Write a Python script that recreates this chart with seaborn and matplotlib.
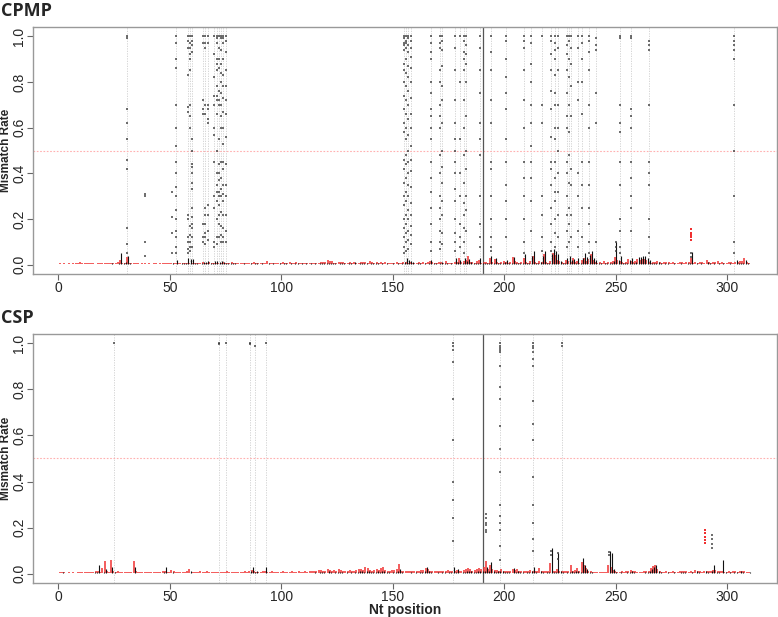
import numpy as np
import pandas as pd
import matplotlib
matplotlib.use('Agg')
import matplotlib.pyplot as plt
import seaborn as sns

sns.set_style('white')
plt.rcParams['font.family'] = ['Liberation Sans', 'DejaVu Sans']

positions = np.arange(1, 311)
split_pos = 190.5

# baseline bar heights per position (x 1/1000 mismatch rate)
cpmp_red = [6, 5, 7, 5, 6, 5, 6, 7, 8, 14,
            9, 8, 7, 6, 7, 6, 5, 6, 7, 6,
            8, 7, 6, 9, 10, 8, 12, 20, 9, 7,
            35, 8, 6, 7, 6, 8, 5, 6, 7, 5,
            6, 5, 7, 6, 5, 6, 7, 8, 9, 7,
            10, 8, 7, 6, 8, 9, 7, 8, 6, 7,
            8, 9, 7, 10, 12, 8, 9, 11, 8, 7,
            10, 9, 8, 12, 9, 7, 10, 14, 8, 9,
            7, 8, 6, 9, 7, 10, 8, 12, 7, 8,
            9, 7, 8, 16, 9, 8, 7, 10, 8, 6,
            14, 9, 8, 11, 10, 9, 12, 8, 7, 9,
            8, 10, 9, 7, 8, 9, 10, 12, 11, 14,
            20, 18, 16, 10, 9, 12, 14, 11, 9, 10,
            12, 9, 11, 8, 10, 12, 14, 11, 9, 16,
            12, 10, 14, 9, 11, 10, 13, 9, 8, 10,
            9, 11, 8, 10, 12, 14, 10, 12, 9, 8,
            10, 12, 9, 11, 8, 14, 18, 12, 10, 9,
            14, 12, 10, 16, 9, 8, 10, 11, 14, 30,
            12, 16, 20, 38, 14, 12, 10, 16, 22, 10,
            12, 14, 10, 28, 12, 26, 14, 10, 12, 16,
            14, 10, 12, 34, 16, 12, 10, 14, 30, 12,
            10, 16, 40, 12, 10, 18, 12, 48, 14, 10,
            16, 50, 42, 20, 18, 14, 10, 22, 16, 12,
            28, 12, 16, 10, 20, 30, 18, 24, 46, 20,
            14, 10, 12, 10, 16, 10, 12, 14, 18, 34,
            22, 16, 12, 10, 14, 24, 18, 12, 16, 26,
            22, 24, 26, 20, 12, 10, 12, 14, 16, 12,
            10, 14, 12, 11, 10, 12, 9, 10, 12, 11,
            10, 12, 14, 30, 10, 12, 9, 14, 11, 10,
            20, 12, 10, 14, 11, 16, 10, 12, 9, 10,
            12, 11, 10, 14, 12, 16, 18, 30, 12, 10]
cpmp_black = [3, 4, 3, 3, 4, 3, 3, 4, 4, 5,
              4, 3, 4, 3, 4, 3, 4, 5, 4, 3,
              4, 5, 4, 6, 4, 5, 8, 50, 6, 14,
              40, 6, 4, 5, 4, 3, 4, 5, 4, 3,
              4, 3, 4, 5, 4, 3, 4, 5, 4, 3,
              6, 5, 20, 4, 6, 8, 6, 30, 26, 24,
              6, 8, 5, 10, 12, 14, 16, 6, 8, 18,
              16, 14, 18, 14, 10, 6, 8, 10, 6, 5,
              5, 4, 6, 5, 4, 6, 5, 8, 6, 5,
              6, 5, 4, 8, 5, 6, 4, 5, 6, 4,
              8, 6, 5, 6, 5, 6, 7, 5, 6, 5,
              6, 5, 6, 5, 6, 5, 6, 7, 6, 8,
              10, 9, 8, 6, 5, 7, 8, 6, 5, 6,
              6, 5, 14, 5, 6, 7, 8, 6, 5, 10,
              8, 6, 10, 5, 6, 5, 7, 5, 4, 6,
              5, 6, 5, 6, 14, 30, 20, 16, 12, 5,
              6, 8, 5, 6, 5, 10, 22, 8, 6, 5,
              10, 14, 6, 10, 5, 6, 5, 28, 12, 20,
              8, 30, 18, 24, 12, 8, 6, 10, 30, 6,
              8, 10, 6, 40, 10, 30, 8, 6, 10, 12,
              20, 6, 8, 36, 10, 8, 6, 10, 48, 8,
              6, 40, 60, 8, 6, 14, 40, 62, 10, 6,
              46, 70, 60, 48, 16, 10, 6, 30, 40, 20,
              24, 8, 30, 6, 28, 50, 36, 44, 60, 30,
              20, 6, 8, 5, 10, 6, 8, 10, 16, 100,
              20, 40, 8, 6, 10, 22, 30, 8, 12, 34,
              36, 38, 40, 30, 20, 6, 8, 10, 12, 6,
              5, 8, 6, 5, 4, 6, 5, 4, 6, 5,
              4, 6, 8, 55, 5, 6, 4, 8, 5, 4,
              14, 6, 4, 8, 5, 10, 4, 6, 5, 4,
              6, 5, 4, 20, 6, 8, 10, 20, 6, 4]
csp_red = [8, 7, 6, 5, 6, 5, 6, 5, 6, 7,
           6, 7, 8, 6, 7, 9, 12, 10, 8, 24,
           55, 10, 8, 60, 12, 8, 14, 9, 8, 7,
           8, 7, 9, 55, 10, 8, 7, 9, 8, 7,
           8, 7, 6, 9, 8, 7, 10, 14, 9, 8,
           18, 10, 8, 9, 7, 8, 9, 10, 20, 8,
           9, 8, 7, 10, 8, 9, 10, 8, 9, 7,
           8, 9, 7, 8, 9, 10, 8, 9, 7, 8,
           9, 7, 8, 10, 9, 14, 18, 12, 9, 8,
           9, 10, 14, 8, 9, 10, 8, 9, 7, 8,
           10, 8, 9, 7, 12, 8, 9, 10, 8, 9,
           10, 9, 11, 10, 12, 14, 16, 18, 14, 12,
           22, 16, 14, 18, 12, 20, 16, 14, 12, 14,
           16, 12, 14, 18, 22, 20, 16, 28, 24, 18,
           14, 16, 20, 18, 24, 30, 16, 14, 12, 16,
           18, 20, 42, 14, 12, 10, 12, 14, 10, 12,
           14, 12, 16, 18, 26, 20, 14, 12, 10, 12,
           11, 12, 14, 12, 16, 14, 12, 10, 18, 12,
           14, 18, 22, 26, 20, 14, 18, 22, 24, 20,
           30, 56, 20, 40, 22, 18, 16, 14, 20, 12,
           14, 12, 10, 22, 16, 20, 14, 12, 10, 14,
           12, 16, 14, 12, 10, 24, 14, 10, 12, 14,
           48, 12, 10, 22, 14, 12, 10, 12, 14, 36,
           12, 16, 24, 14, 50, 36, 24, 12, 10, 8,
           8, 7, 8, 7, 8, 9, 40, 30, 16, 10,
           9, 8, 10, 8, 12, 14, 16, 12, 10, 8,
           9, 8, 10, 12, 14, 26, 34, 40, 20, 10,
           9, 8, 10, 9, 8, 10, 9, 8, 10, 14,
           12, 10, 9, 14, 8, 18, 12, 10, 9, 14,
           12, 10, 14, 18, 16, 14, 12, 10, 9, 8,
           10, 9, 12, 10, 9, 14, 12, 10, 9, 8]
csp_black = [4, 8, 3, 4, 3, 4, 3, 4, 3, 4,
             3, 4, 5, 4, 3, 6, 8, 40, 5, 6,
             20, 5, 4, 30, 6, 4, 5, 4, 3, 4,
             4, 3, 5, 30, 4, 3, 4, 5, 4, 3,
             4, 3, 4, 5, 4, 3, 6, 30, 5, 4,
             8, 4, 5, 4, 3, 4, 5, 4, 10, 4,
             4, 5, 4, 3, 5, 4, 3, 4, 5, 4,
             5, 4, 5, 4, 3, 5, 4, 3, 4, 5,
             4, 5, 4, 3, 4, 10, 30, 8, 14, 4,
             5, 4, 30, 5, 4, 5, 4, 3, 4, 5,
             4, 5, 4, 3, 5, 4, 3, 4, 5, 4,
             5, 4, 5, 4, 6, 5, 6, 8, 6, 5,
             10, 6, 5, 8, 6, 8, 6, 5, 6, 5,
             6, 5, 6, 8, 14, 10, 8, 12, 10, 8,
             6, 8, 10, 8, 12, 14, 8, 6, 5, 8,
             8, 10, 20, 6, 5, 4, 5, 6, 5, 6,
             5, 6, 8, 10, 30, 10, 6, 5, 4, 6,
             5, 6, 8, 5, 6, 8, 30, 6, 20, 5,
             6, 8, 10, 14, 10, 6, 8, 12, 14, 10,
             14, 30, 10, 50, 12, 8, 10, 14, 10, 6,
             8, 6, 5, 24, 8, 12, 8, 6, 5, 8,
             6, 10, 30, 6, 5, 14, 8, 5, 6, 8,
             110, 8, 6, 90, 10, 8, 5, 6, 8, 10,
             6, 10, 14, 8, 70, 40, 20, 8, 6, 5,
             4, 5, 4, 5, 4, 5, 100, 90, 20, 6,
             5, 6, 5, 4, 6, 8, 10, 6, 5, 4,
             5, 4, 6, 8, 10, 20, 30, 40, 14, 6,
             5, 4, 6, 5, 4, 6, 5, 4, 6, 8,
             6, 5, 4, 8, 5, 10, 6, 5, 4, 14,
             6, 5, 14, 40, 8, 6, 5, 60, 6, 4,
             6, 5, 8, 6, 5, 10, 6, 5, 4, 6]

# positions with high mismatch (marked with dotted lines) and their sample values
cpmp_hit_pos = [31, 53, 58, 59, 60, 65, 66, 67, 70, 71, 72, 73, 74, 75,
                155, 156, 157, 158, 167, 171, 172, 178, 180, 182, 183, 189,
                194, 201, 209, 212, 217, 221, 223, 224, 228, 229, 230, 233,
                235, 238, 241, 252, 257, 265, 303]
cpmp_hit_vals = [
    [1.0, 0.99, 0.68, 0.62, 0.55, 0.46, 0.42, 0.16, 0.09, 0.05],
    [1.0, 0.97, 0.9, 0.86, 0.7, 0.6, 0.52, 0.45, 0.4, 0.34, 0.3, 0.24, 0.2, 0.15, 0.12, 0.08, 0.05],
    [1.0, 0.98, 0.95, 0.83, 0.69, 0.67, 0.22, 0.2, 0.12, 0.1, 0.07, 0.05],
    [1.0, 0.97, 0.95, 0.92, 0.9, 0.85, 0.7, 0.65, 0.6, 0.17, 0.13, 0.1, 0.08, 0.06],
    [1.0, 0.98, 0.96, 0.93, 0.55, 0.5, 0.44, 0.43, 0.4, 0.36, 0.33, 0.25, 0.21, 0.18, 0.16, 0.12, 0.08],
    [1.0, 0.97, 0.72, 0.68, 0.66, 0.18, 0.12, 0.1],
    [1.0, 0.97, 0.95, 0.7, 0.66, 0.25, 0.22, 0.18, 0.14, 0.12, 0.09],
    [1.0, 0.97, 0.7, 0.68, 0.64, 0.62, 0.26, 0.22, 0.15, 0.11],
    [1.0, 0.92, 0.82, 0.74, 0.7, 0.6, 0.57, 0.45, 0.3, 0.25, 0.1, 0.08],
    [1.0, 0.99, 0.97, 0.9, 0.88, 0.85, 0.78, 0.74, 0.72, 0.66, 0.5, 0.4, 0.35, 0.32, 0.28, 0.2, 0.12, 0.09],
    [1.0, 0.95, 0.9, 0.86, 0.76, 0.72, 0.7, 0.55, 0.44, 0.4, 0.37, 0.32, 0.3, 0.26, 0.22, 0.18, 0.12],
    [1.0, 0.99, 0.94, 0.88, 0.84, 0.8, 0.75, 0.7, 0.65, 0.6, 0.45, 0.38, 0.33, 0.3, 0.23, 0.17, 0.13, 0.1],
    [1.0, 0.99, 0.97, 0.9, 0.83, 0.78, 0.73, 0.67, 0.6, 0.53, 0.45, 0.42, 0.35, 0.31, 0.28, 0.22, 0.16, 0.12, 0.1],
    [1.0, 0.98, 0.93, 0.85, 0.78, 0.72, 0.66, 0.56, 0.44, 0.35, 0.3, 0.22, 0.15, 0.1],
    [1.0, 0.99, 0.97, 0.96, 0.94, 0.88, 0.85, 0.8, 0.74, 0.68, 0.62, 0.58, 0.46, 0.42, 0.36, 0.3, 0.26, 0.2, 0.16, 0.12, 0.08, 0.05],
    [1.0, 0.98, 0.97, 0.95, 0.9, 0.84, 0.78, 0.72, 0.66, 0.6, 0.55, 0.48, 0.44, 0.38, 0.32, 0.28, 0.22, 0.18, 0.14, 0.1, 0.06],
    [1.0, 0.99, 0.96, 0.93, 0.87, 0.82, 0.76, 0.7, 0.64, 0.57, 0.5, 0.45, 0.4, 0.35, 0.3, 0.24, 0.2, 0.15, 0.11, 0.07],
    [1.0, 0.98, 0.95, 0.91, 0.86, 0.8, 0.73, 0.66, 0.6, 0.52, 0.46, 0.41, 0.34, 0.27, 0.22, 0.17, 0.13, 0.09],
    [1.0, 0.97, 0.93, 0.9, 0.8, 0.75, 0.68, 0.65, 0.6, 0.55, 0.45, 0.38, 0.32, 0.25, 0.18, 0.1, 0.06],
    [1.0, 0.97, 0.95, 0.85, 0.8, 0.7, 0.65, 0.6, 0.48, 0.4, 0.3, 0.25, 0.2, 0.15, 0.1, 0.07],
    [1.0, 0.98, 0.94, 0.87, 0.78, 0.72, 0.62, 0.5, 0.43, 0.36, 0.28, 0.22, 0.14, 0.09],
    [1.0, 0.95, 0.85, 0.72, 0.62, 0.55, 0.5, 0.45, 0.4, 0.33, 0.28, 0.2, 0.14, 0.1, 0.06],
    [1.0, 0.8, 0.55, 0.4, 0.3, 0.18, 0.12, 0.08],
    [1.0, 0.98, 0.93, 0.9, 0.85, 0.72, 0.6, 0.48, 0.36, 0.27, 0.22, 0.16, 0.1, 0.05],
    [1.0, 0.96, 0.92, 0.88, 0.8, 0.65, 0.5, 0.42, 0.3, 0.24, 0.15],
    [1.0, 0.95, 0.85, 0.75, 0.62, 0.55, 0.48, 0.3, 0.18, 0.12, 0.08],
    [1.0, 0.93, 0.85, 0.72, 0.62, 0.45, 0.42, 0.3, 0.2, 0.12, 0.08, 0.06],
    [1.0, 0.98, 0.9, 0.82, 0.75, 0.68, 0.55, 0.45, 0.35, 0.28, 0.2, 0.12],
    [1.0, 0.98, 0.95, 0.85, 0.72, 0.6, 0.45, 0.38, 0.3, 0.2, 0.1, 0.05],
    [1.0, 0.97, 0.88, 0.8, 0.7, 0.62, 0.52, 0.45, 0.38, 0.28, 0.15],
    [1.0, 0.7, 0.62, 0.3, 0.22, 0.12, 0.06],
    [1.0, 0.98, 0.92, 0.85, 0.76, 0.68, 0.56, 0.45, 0.42, 0.35, 0.25, 0.18, 0.1, 0.06],
    [1.0, 0.97, 0.94, 0.9, 0.83, 0.75, 0.7, 0.6, 0.55, 0.45, 0.38, 0.32, 0.28, 0.2, 0.14, 0.08],
    [1.0, 0.95, 0.85, 0.7, 0.6, 0.5, 0.4, 0.32, 0.22, 0.12],
    [1.0, 0.96, 0.92, 0.85, 0.75, 0.65, 0.6, 0.45, 0.4, 0.3, 0.22, 0.15, 0.08],
    [1.0, 0.98, 0.9, 0.82, 0.7, 0.58, 0.48, 0.36, 0.25, 0.18, 0.1],
    [1.0, 0.95, 0.88, 0.78, 0.65, 0.42, 0.35, 0.22, 0.12],
    [1.0, 0.95, 0.8, 0.72, 0.4, 0.3, 0.15, 0.08],
    [1.0, 0.97, 0.9, 0.8, 0.66, 0.45, 0.35, 0.25, 0.12],
    [1.0, 0.98, 0.93, 0.85, 0.7, 0.6, 0.45, 0.35, 0.25, 0.18, 0.1, 0.05],
    [0.99, 0.96, 0.94, 0.75, 0.62, 0.1],
    [1.0, 0.99, 0.7, 0.62, 0.58, 0.45, 0.35, 0.2, 0.15, 0.08, 0.05],
    [1.0, 0.99, 0.68, 0.65, 0.6, 0.45, 0.38, 0.3, 0.25, 0.15],
    [0.98, 0.96, 0.94, 0.7, 0.45, 0.4, 0.35, 0.2, 0.12, 0.05],
    [1.0, 0.98, 0.96, 0.94, 0.9, 0.7, 0.5, 0.3, 0.1, 0.05],
]
# scattered points at positions without a dotted line
cpmp_extra_pos = [39, 39, 39, 39, 51, 51, 51, 51, 250, 250, 250, 284, 284]
cpmp_extra_vals = [0.31, 0.30, 0.10, 0.04, 0.32, 0.21, 0.14, 0.05, 0.10, 0.08, 0.06, 0.05, 0.035]
cpmp_red_extra_pos = [284, 284, 284, 284, 284]
cpmp_red_extra_vals = [0.155, 0.14, 0.13, 0.12, 0.11]

csp_hit_pos = [25, 72, 75, 86, 88, 93, 177, 198, 213, 226]
csp_hit_vals = [
    [1.0],
    [1.0, 0.995],
    [1.0],
    [1.0, 0.995],
    [0.99],
    [1.0],
    [1.0, 0.99, 0.97, 0.92, 0.76, 0.58, 0.4, 0.32, 0.24, 0.14],
    [1.0, 0.99, 0.98, 0.97, 0.96, 0.9, 0.81, 0.76, 0.64, 0.54, 0.44, 0.3, 0.25, 0.22, 0.19, 0.12, 0.06],
    [1.0, 0.99, 0.98, 0.96, 0.93, 0.9, 0.75, 0.65, 0.58, 0.42, 0.3, 0.22, 0.15, 0.1],
    [1.0, 0.99],
]
csp_extra_pos = [192, 192, 192, 192, 192, 192, 293, 293, 293, 293, 221, 221, 224, 224, 247, 247]
csp_extra_vals = [0.26, 0.24, 0.22, 0.21, 0.19, 0.18, 0.17, 0.15, 0.13, 0.11, 0.1, 0.08, 0.09, 0.065, 0.095, 0.08]
csp_red_extra_pos = [290, 290, 290, 290, 290]
csp_red_extra_vals = [0.19, 0.175, 0.16, 0.145, 0.135]


def draw_panel(ax, red, black, hit_pos, hit_vals, extra_pos, extra_vals, rx_pos, rx_vals):
    for p in hit_pos:
        ax.axvline(p, color='#cfcfcf', ls=(0, (1.5, 1.5)), lw=0.6, zorder=0)
    ax.axhline(0.5, color='#ffb0b0', ls=(0, (1.5, 1.5)), lw=0.8, zorder=1)
    ax.axvline(split_pos, color='#555555', lw=0.9, zorder=1)

    ax.vlines(positions - 0.25, 0.002, np.array(red) / 1000, color='#f03030', lw=1.1, zorder=2)
    ax.vlines(positions + 0.3, 0.002, np.array(black) / 1000, color='#111111', lw=0.8, zorder=3)

    pts = pd.DataFrame({
        'pos': [p for p, v in zip(hit_pos, hit_vals) for _ in v] + list(extra_pos),
        'val': [x for v in hit_vals for x in v] + list(extra_vals),
    })
    sns.scatterplot(data=pts, x='pos', y='val', ax=ax, color='#333333', marker='s',
                    s=2.0, linewidth=0, alpha=0.7, legend=False, zorder=4)
    red_pts = pd.DataFrame({'pos': rx_pos, 'val': rx_vals})
    sns.scatterplot(data=red_pts, x='pos', y='val', ax=ax, color='#f03030', marker='s',
                    s=3, linewidth=0, legend=False, zorder=4)

    ax.set_xlim(1 - 12.36, 310 + 12.36)
    ax.set_ylim(-0.04, 1.04)
    ax.set_xticks([0, 50, 100, 150, 200, 250, 300])
    ax.set_yticks([0.0, 0.2, 0.4, 0.6, 0.8, 1.0])
    ax.set_yticklabels(['0.0', '0.2', '0.4', '0.6', '0.8', '1.0'])
    for lab in ax.get_yticklabels():
        lab.set_rotation(90)
        lab.set_va('center')
    ax.tick_params(direction='out', length=4, width=0.8, color='#666666',
                   labelsize=10, pad=1, left=True, bottom=True)
    for s in ax.spines.values():
        s.set_color('#999999')
        s.set_linewidth(1.0)
    ax.set_xlabel('')
    ax.set_ylabel('')


fig = plt.figure(figsize=(7.78, 6.17), dpi=100)
ax1 = fig.add_axes([0.0424, 0.5559, 0.9563, 0.4003])
ax2 = fig.add_axes([0.0424, 0.0551, 0.9563, 0.4036])

draw_panel(ax1, cpmp_red, cpmp_black, cpmp_hit_pos, cpmp_hit_vals,
           cpmp_extra_pos, cpmp_extra_vals, cpmp_red_extra_pos, cpmp_red_extra_vals)
draw_panel(ax2, csp_red, csp_black, csp_hit_pos, csp_hit_vals,
           csp_extra_pos, csp_extra_vals, csp_red_extra_pos, csp_red_extra_vals)

# axis labels placed in figure pixels to match the original layout
fig.text(6 / 778, 1 - 150 / 617, 'Mismatch Rate', rotation=90, fontsize=8.5,
         fontweight='bold', va='center', ha='center')
fig.text(6 / 778, 1 - 458 / 617, 'Mismatch Rate', rotation=90, fontsize=8.5,
         fontweight='bold', va='center', ha='center')
fig.text(405 / 778, 1 - 610 / 617, 'Nt position', fontsize=10,
         fontweight='bold', va='center', ha='center')

fig.text(0.001, 1 - 11 / 617, 'CPMP', fontsize=13, fontweight='bold', va='center', ha='left',
         family=['Open Sans', 'DejaVu Sans'])
fig.text(0.001, 1 - 318 / 617, 'CSP', fontsize=13, fontweight='bold', va='center', ha='left',
         family=['Open Sans', 'DejaVu Sans'])

fig.savefig('out.png', dpi=100)
